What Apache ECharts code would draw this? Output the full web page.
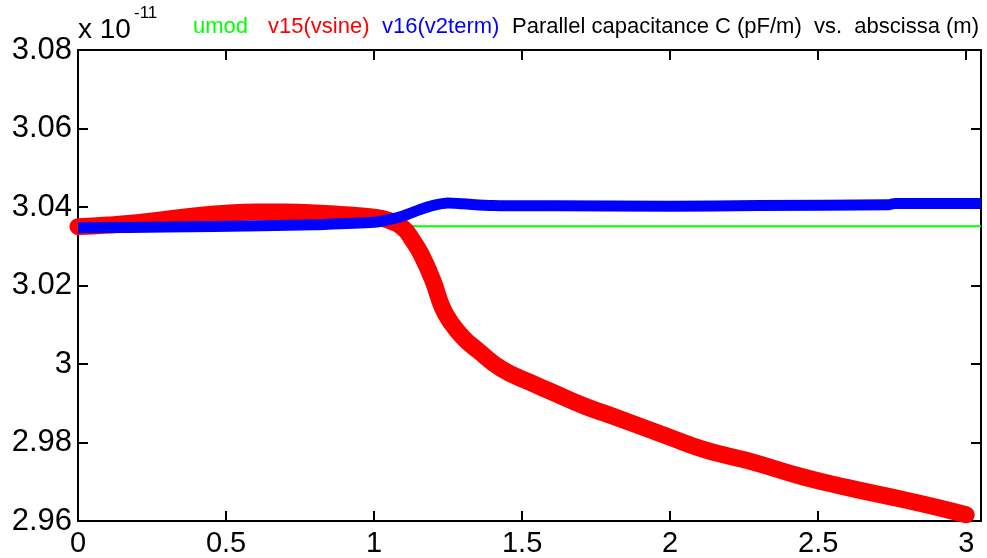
<!DOCTYPE html>
<html>
<head>
<meta charset="UTF-8">
<title>Parallel capacitance</title>
<script src="https://cdn.jsdelivr.net/npm/echarts@6/dist/echarts.min.js"></script>
<style>
  html, body { margin: 0; padding: 0; background: #fff; }
  #chart { width: 987px; height: 558px; }
</style>
</head>
<body>
<div id="chart"></div>
<script>
// values are in units of 1e-11 (F/m), as on the MATLAB axis
var umodX = [0, 3.05];
var umodC = [3.0351, 3.0351];

var redX = [0, 0.1, 0.2, 0.3, 0.4, 0.5, 0.6, 0.7, 0.8, 0.9, 1.0, 1.05, 1.1, 1.13, 1.16, 1.2, 1.23, 1.26, 1.3, 1.35, 1.43, 1.53, 1.6, 1.71, 1.8, 2.0, 2.11, 2.2, 2.28, 2.45, 2.6, 2.79, 2.9, 3.0];
var redC = [3.0350, 3.0354, 3.0360, 3.0369, 3.0378, 3.0384, 3.0387, 3.0387, 3.0385, 3.0380, 3.0374, 3.0366, 3.0345, 3.0315, 3.0278, 3.0210, 3.0145, 3.0105, 3.0068, 3.0035, 2.9988, 2.9952, 2.9929, 2.9893, 2.9869, 2.9813, 2.9783, 2.9765, 2.9750, 2.9712, 2.9685, 2.9654, 2.9635, 2.9616];

var blueX = [0, 0.3, 0.62, 0.8, 1.0, 1.05, 1.1, 1.15, 1.2, 1.25, 1.3, 1.4, 1.6, 2.0, 2.3, 2.74, 2.76, 3.05];
var blueC = [3.0347, 3.0349, 3.0352, 3.0355, 3.0361, 3.0368, 3.0378, 3.0392, 3.0404, 3.0410, 3.0408, 3.0404, 3.0403, 3.0402, 3.0404, 3.0406, 3.0409, 3.0409];

function pairs(xs, ys) {
    var out = [];
    for (var i = 0; i < xs.length; i++) out.push([xs[i], ys[i]]);
    return out;
}

var textFont = 'Liberation Sans, Arial, sans-serif';

var mychart = echarts.init(document.getElementById('chart'));

// MATLAB style box: inward ticks on all four sides
function boxAxis(pos, isX) {
    return {
        type: 'value',
        position: pos,
        min: isX ? 0 : 2.96,
        max: isX ? 3.05 : 3.08,
        interval: isX ? 0.5 : 0.02,
        axisLine: { show: true, onZero: false, lineStyle: { color: '#000', width: 2 } },
        axisTick: { show: true, inside: true, length: 10, lineStyle: { color: '#000', width: 2 } },
        splitLine: { show: false },
        axisLabel: { show: false }
    };
}

var xBottom = boxAxis('bottom', true);
xBottom.axisLabel = {
    show: true, color: '#000', fontSize: 29, fontFamily: textFont, margin: 8,
    formatter: function (v) {
        var r = Math.round(v * 2) / 2;
        if (Math.abs(r - v) > 1e-6) return '';
        return String(+r.toFixed(1));
    }
};
var yLeft = boxAxis('left', false);
yLeft.axisLabel = {
    show: true, color: '#000', fontSize: 31, fontFamily: textFont, margin: 6,
    formatter: function (v) { return String(+v.toFixed(2)); }
};

var myoption = {
    animation: false,
    backgroundColor: '#fff',
    grid: { left: 78, right: 6, top: 50, bottom: 37, containLabel: false },
    xAxis: [xBottom, boxAxis('top', true)],
    yAxis: [yLeft, boxAxis('right', false)],
    graphic: [
        { type: 'text', left: 78, top: 16, style: { text: 'x 10', font: '28px ' + textFont, fill: '#000' } },
        { type: 'text', left: 134, top: 5, style: { text: '-11', font: '17px ' + textFont, fill: '#000' } },
        { type: 'text', left: 193, top: 16, style: { text: 'umod', font: '22px ' + textFont, fill: '#00ff00' } },
        { type: 'text', left: 268, top: 16, style: { text: 'v15(vsine)', font: '22px ' + textFont, fill: '#ff0000' } },
        { type: 'text', left: 382, top: 16, style: { text: 'v16(v2term)', font: '22px ' + textFont, fill: '#0000ff' } },
        { type: 'text', left: 512, top: 16, style: { text: 'Parallel capacitance C (pF/m)  vs.  abscissa (m)', font: '22px ' + textFont, fill: '#000' } }
    ],
    series: [
        {
            name: 'umod', type: 'line', data: pairs(umodX, umodC),
            symbol: 'none', clip: false,
            lineStyle: { color: '#00ff00', width: 2 }
        },
        {
            name: 'v15(vsine)', type: 'line', data: pairs(redX, redC),
            symbol: 'none', smooth: 0.5, clip: false,
            lineStyle: { color: '#ff0000', width: 17, cap: 'round', join: 'round' }
        },
        {
            name: 'v16(v2term)', type: 'line', data: pairs(blueX, blueC),
            symbol: 'none', smooth: 0.3, clip: false,
            lineStyle: { color: '#0000ff', width: 11, cap: 'butt', join: 'round' }
        }
    ]
};
mychart.setOption(myoption);
</script>
</body>
</html>
